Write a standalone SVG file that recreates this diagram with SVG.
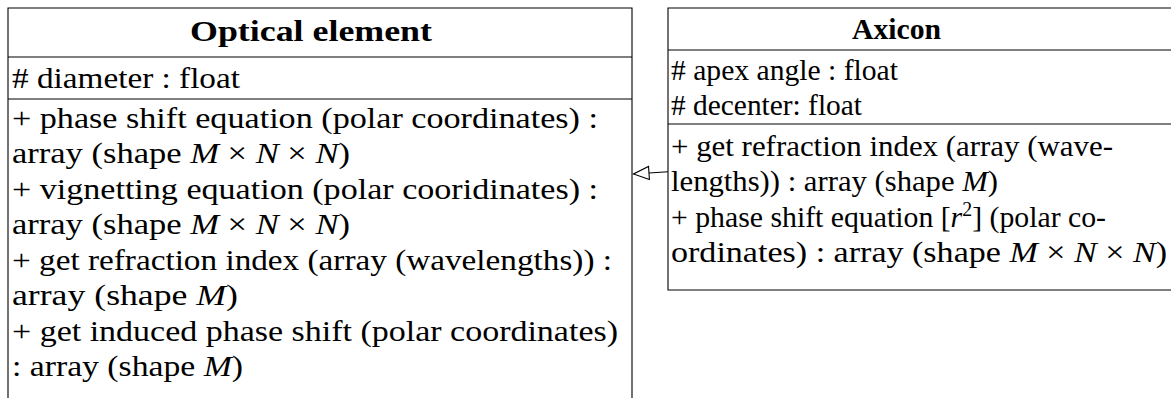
<svg xmlns="http://www.w3.org/2000/svg" width="1171" height="398" viewBox="0 0 1171 398">
<defs>
<style>
.box{fill:#fff;stroke:#000;stroke-width:1.1}
.div{stroke:#000;stroke-width:1.1}
text{font-family:"Liberation Serif","Times New Roman",serif;font-size:30px;fill:#000}
.title{font-weight:bold}
.it{font-style:italic}
.conn{stroke:#000;stroke-width:1.1;fill:none}
</style>
<marker id="inherit" markerUnits="userSpaceOnUse" markerWidth="18" markerHeight="15" refX="16.5" refY="7" orient="auto" viewBox="0 0 18 15">
<path d="M1,0.5 L16.5,7 L1,13.5 z" fill="#fff" stroke="#000" stroke-width="1.1"/>
</marker>
</defs>
<rect width="1171" height="398" fill="#fff"/>
<g id="optical-element">
<path class="box" d="M8,410 L8,8 L632,8 L632,410"/>
<line class="div" x1="8" y1="57" x2="632" y2="57"/>
<line class="div" x1="8" y1="99" x2="632" y2="99"/>
<text class="title" x="190" y="41" textLength="242" lengthAdjust="spacingAndGlyphs">Optical element</text>
<text x="12" y="88" textLength="228" lengthAdjust="spacingAndGlyphs"># diameter : float</text>
<text x="12" y="128" textLength="586" lengthAdjust="spacingAndGlyphs">+ phase shift equation (polar coordinates) :</text>
<text x="12" y="163" textLength="338" lengthAdjust="spacingAndGlyphs">array (shape <tspan class="it">M</tspan> × <tspan class="it">N</tspan> × <tspan class="it">N</tspan>)</text>
<text x="12" y="199" textLength="586" lengthAdjust="spacingAndGlyphs">+ vignetting equation (polar cooridinates) :</text>
<text x="12" y="234" textLength="338" lengthAdjust="spacingAndGlyphs">array (shape <tspan class="it">M</tspan> × <tspan class="it">N</tspan> × <tspan class="it">N</tspan>)</text>
<text x="12" y="270" textLength="600" lengthAdjust="spacingAndGlyphs">+ get refraction index (array (wavelengths)) :</text>
<text x="12" y="305" textLength="226" lengthAdjust="spacingAndGlyphs">array (shape <tspan class="it">M</tspan>)</text>
<text x="12" y="341" textLength="606" lengthAdjust="spacingAndGlyphs">+ get induced phase shift (polar coordinates)</text>
<text x="12" y="376" textLength="231" lengthAdjust="spacingAndGlyphs">: array (shape <tspan class="it">M</tspan>)</text>
</g>
<g id="axicon">
<path class="box" d="M1180,8 L668,8 L668,290 L1180,290"/>
<line class="div" x1="668" y1="50" x2="1180" y2="50"/>
<line class="div" x1="668" y1="124" x2="1180" y2="124"/>
<text class="title" x="852" y="39" textLength="89" lengthAdjust="spacingAndGlyphs">Axicon</text>
<text x="671" y="80" textLength="227" lengthAdjust="spacingAndGlyphs"># apex angle : float</text>
<text x="671" y="115" textLength="191" lengthAdjust="spacingAndGlyphs"># decenter: float</text>
<text x="671" y="156" textLength="442" lengthAdjust="spacingAndGlyphs">+ get refraction index (array (wave-</text>
<text x="671" y="191" textLength="327" lengthAdjust="spacingAndGlyphs">lengths)) : array (shape <tspan class="it">M</tspan>)</text>
<text x="671" y="227" textLength="435" lengthAdjust="spacingAndGlyphs">+ phase shift equation [<tspan class="it">r</tspan><tspan font-size="20" dy="-11">2</tspan><tspan dy="11">] (polar co-</tspan></text>
<text x="671" y="262" textLength="496" lengthAdjust="spacingAndGlyphs">ordinates) : array (shape <tspan class="it">M</tspan> × <tspan class="it">N</tspan> × <tspan class="it">N</tspan>)</text>
</g>
<g id="connectors">
<line class="conn" x1="668" y1="171.7" x2="633.5" y2="174" marker-end="url(#inherit)"/>
</g>
</svg>
